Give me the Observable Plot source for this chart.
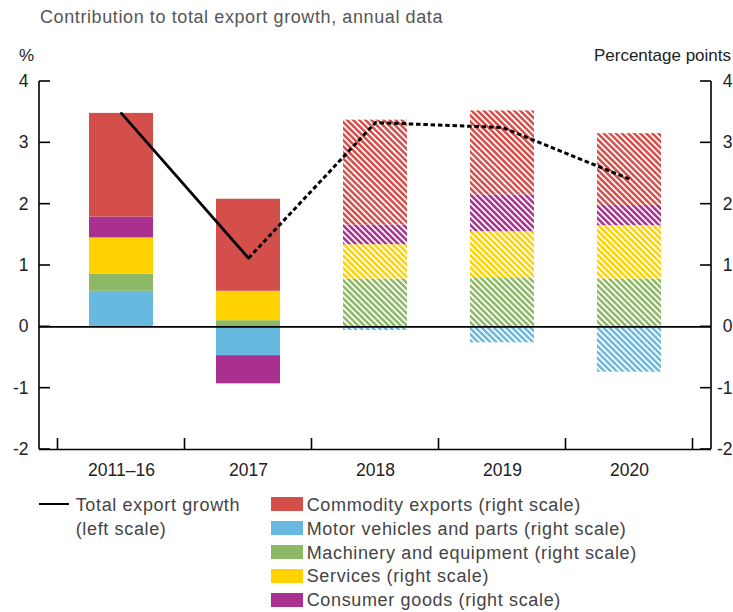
<!DOCTYPE html>
<html>
<head>
<meta charset="utf-8">
<script src="https://cdn.jsdelivr.net/npm/d3@7"></script>
<script src="https://cdn.jsdelivr.net/npm/@observablehq/plot@0.6"></script>
<style>
  body { margin: 0; background: #fff; font-family: "Liberation Sans", Arial, sans-serif; }
  #wrap { position: relative; width: 733px; height: 612px; overflow: hidden; }
  #title { position: absolute; left: 40px; top: 8px; font-size: 18px; line-height: 18px; letter-spacing: 0.6px; color: #555; white-space: nowrap; z-index: 2; }
  .unit { position: absolute; top: 46.6px; font-size: 17px; line-height: 17px; color: #222; white-space: nowrap; z-index: 2; }
  #chart { position: absolute; left: 0; top: 30px; z-index: 1; }
  .lg { position: absolute; height: 24px; font-size: 18px; line-height: 24px; letter-spacing: 0.65px; color: #444; white-space: nowrap; z-index: 2; }
  .lg .sw { position: absolute; left: 0; top: 4.25px; width: 32px; height: 14px; }
  .lg .tx { position: absolute; left: 36px; top: 0; }
</style>
</head>
<body>
<div id="wrap">
  <div id="chart"></div>
  <div id="title">Contribution to total export growth, annual data</div>
  <div class="unit" style="left:19px">%</div>
  <div class="unit" style="right:2px">Percentage points</div>
  <div id="legend"></div>
</div>
<script>
// ---- data ----
const categories = ["2011–16", "2017", "2018", "2019", "2020"];
const forecast = [false, false, true, true, true];
const seriesNames = ["Motor vehicles and parts", "Machinery and equipment", "Services", "Consumer goods", "Commodity exports"];
const motorVehicles = [0.58, -0.47, -0.06, -0.26, -0.74];
const machinery = [0.28, 0.10, 0.78, 0.80, 0.78];
const services = [0.59, 0.48, 0.56, 0.75, 0.87];
const consumerGoods = [0.34, -0.46, 0.32, 0.60, 0.33];
const commodities = [1.69, 1.50, 1.71, 1.37, 1.17];
const totalGrowth = [3.48, 1.12, 3.33, 3.25, 2.41];
const seriesColors = ["#68B9DF", "#8DB865", "#FFD200", "#A9308F", "#D44F49"];
const yTicks = [-2, -1, 0, 1, 2, 3, 4];
const legendOrder = ["Commodity exports", "Motor vehicles and parts", "Machinery and equipment", "Services", "Consumer goods"];

// ---- build tables ----
const seriesValues = [motorVehicles, machinery, services, consumerGoods, commodities];
const rows = [];
seriesNames.forEach((s, si) => {
  categories.forEach((c, ci) => {
    rows.push({category: c, series: s, key: s + (forecast[ci] ? "|h" : ""), value: seriesValues[si][ci]});
  });
});
const colorDomain = [], colorRange = [];
seriesNames.forEach((s, si) => {
  colorDomain.push(s, s + "|h");
  colorRange.push(seriesColors[si], `url(#hatch-${si})`);
});
const linePts = categories.map((c, i) => ({category: c, value: totalGrowth[i], forecast: forecast[i]}));
const lastActual = forecast.lastIndexOf(false);
const actualLine = linePts.slice(0, lastActual + 1);
const forecastLine = linePts.slice(lastActual);

const fmt = d => String(d);

const plot = Plot.plot({
  width: 733,
  height: 455,
  marginTop: 51,
  marginBottom: 36,
  marginLeft: 39,
  marginRight: 22,
  style: {fontFamily: "Liberation Sans, Arial, sans-serif", fontSize: "17.5px", color: "#222", background: "transparent"},
  x: {type: "band", domain: categories, paddingInner: 0.5, paddingOuter: 0.25, insetLeft: 17, insetRight: 17, label: null},
  y: {domain: [-2, 4], label: null},
  color: {type: "ordinal", domain: colorDomain, range: colorRange},
  marks: [
    Plot.barY(rows, Plot.stackY({x: "category", y: "value", fill: "key", order: null})),
    Plot.ruleY([0], {stroke: "#000", strokeWidth: 1.6}),
    Plot.ruleY([-2], {stroke: "#000", strokeWidth: 1.6}),
    Plot.line(actualLine, {x: "category", y: "value", stroke: "#000", strokeWidth: 2.8}),
    Plot.line(forecastLine, {x: "category", y: "value", stroke: "#000", strokeWidth: 3, strokeDasharray: "4.5,2.8", strokeLinecap: "butt"}),
    Plot.axisX({tickSize: 0, tickPadding: 14, label: null}),
    Plot.axisY({anchor: "left", ticks: yTicks, tickSize: 0, tickPadding: 11, tickFormat: fmt, label: null}),
    Plot.axisY({anchor: "right", ticks: yTicks, tickSize: 0, tickPadding: 21, textAnchor: "end", tickFormat: fmt, label: null})
  ]
});
document.getElementById("chart").appendChild(plot);

// ---- hatch patterns and axis decorations ----
const svg = d3.select(plot);
const defs = svg.insert("defs", ":first-child");
seriesColors.forEach((col, i) => {
  const p = defs.append("pattern")
    .attr("id", `hatch-${i}`)
    .attr("patternUnits", "userSpaceOnUse")
    .attr("width", 4.3).attr("height", 4.3)
    .attr("patternTransform", "rotate(-45)");
  p.append("rect").attr("width", 4.3).attr("height", 4.3).attr("fill", "#fff");
  p.append("rect").attr("width", 2.5).attr("height", 4.3).attr("fill", col);
});

const sx = plot.scale("x"), sy = plot.scale("y");
const xl = 39, xr = 733 - 22;
const g = svg.append("g").attr("stroke", "#000").attr("stroke-width", 1.6).attr("fill", "none");
const yTop = sy.apply(yTicks[yTicks.length - 1]), yBot = sy.apply(yTicks[0]);
g.append("line").attr("x1", xl).attr("x2", xl).attr("y1", yTop).attr("y2", yBot);
g.append("line").attr("x1", xr).attr("x2", xr).attr("y1", yTop).attr("y2", yBot);
yTicks.forEach(t => {
  const y = sy.apply(t);
  g.append("line").attr("x1", xl).attr("x2", xl + 11).attr("y1", y).attr("y2", y);
  g.append("line").attr("x1", xr - 11).attr("x2", xr).attr("y1", y).attr("y2", y);
});
const gap = (sx.step - sx.bandwidth) / 2;
const bounds = categories.map(c => sx.apply(c) - gap);
bounds.push(sx.apply(categories[categories.length - 1]) + sx.bandwidth + gap);
bounds.forEach(x => {
  g.append("line").attr("x1", x).attr("x2", x).attr("y1", yBot).attr("y2", yBot - 11);
});

// ---- legend ----
const legend = d3.select("#legend");
const lineItem = legend.append("div").attr("class", "lg").style("left", "39.3px").style("top", "492.75px").style("height", "48px");
lineItem.append("div").style("position", "absolute").style("left", "0px").style("top", "10px")
  .style("width", "30px").style("height", "2.6px").style("background", "#000");
lineItem.append("div").attr("class", "tx").style("left", "36.4px").html("Total export growth<br>(left scale)");

legendOrder.forEach((name, i) => {
  const si = seriesNames.indexOf(name);
  const item = legend.append("div").attr("class", "lg")
    .style("left", "270.7px").style("top", (492.75 + 23.9 * i) + "px");
  item.append("div").attr("class", "sw").style("background", seriesColors[si]);
  item.append("div").attr("class", "tx").text(name + " (right scale)");
});
</script>
</body>
</html>
